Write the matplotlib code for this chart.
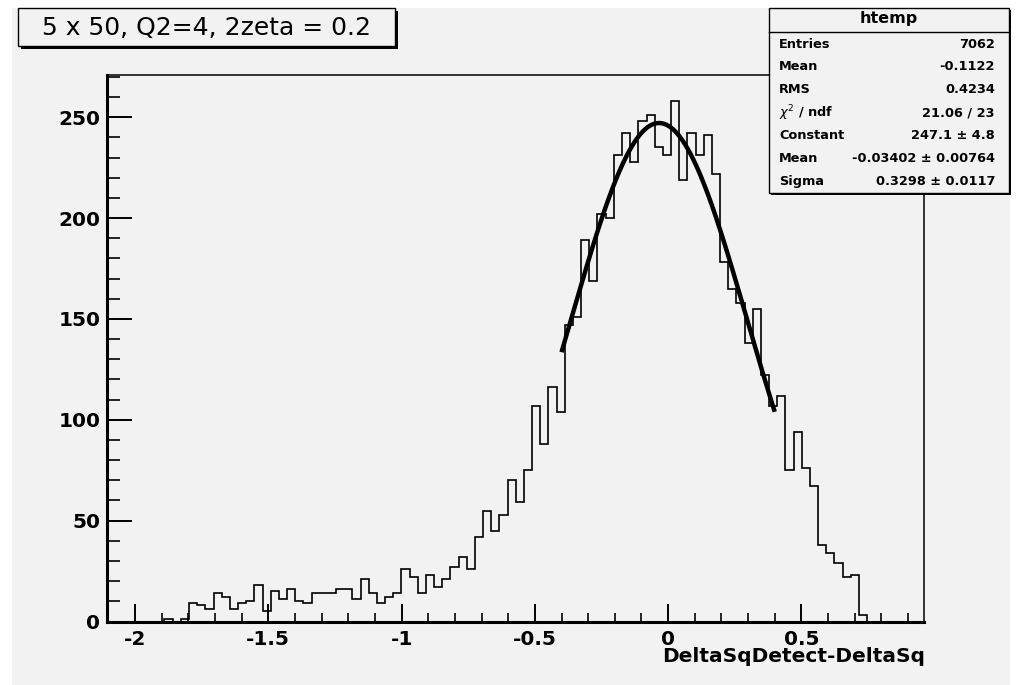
import numpy as np
import matplotlib
matplotlib.use("Agg")
import matplotlib.pyplot as plt
from matplotlib.patches import Rectangle
from matplotlib.lines import Line2D
from matplotlib.ticker import FixedLocator, MultipleLocator

plt.rcParams['font.family'] = ['DejaVu Sans']
plt.rcParams['axes.unicode_minus'] = False

# histogram "htemp": 100 bins, counts
x_min = -2.104
x_max = 0.961
counts = [0, 0, 0, 0, 0, 0, 0, 1, 0, 1,
          9, 8, 6, 14, 12, 6, 9, 10, 18, 5,
          15, 11, 16, 10, 9, 14, 14, 14, 16, 16,
          11, 21, 14, 9, 12, 14, 26, 22, 14, 23,
          17, 21, 27, 32, 26, 42, 55, 45, 53, 70,
          59, 75, 107, 88, 116, 104, 147, 151, 189, 169,
          202, 200, 231, 242, 228, 248, 251, 235, 231, 258,
          219, 242, 231, 241, 222, 178, 165, 158, 138, 155,
          122, 107, 112, 75, 94, 76, 67, 38, 34, 29,
          22, 23, 3, 0, 0, 0, 0, 0, 0, 0]

# gaussian fit shown in the stats box
fit_const = 247.1
fit_mean = -0.03402
fit_sigma = 0.3298
fit_lo, fit_hi = -0.4, 0.4

x_ticks = [-2, -1.5, -1, -0.5, 0, 0.5]
x_tick_labels = ["-2", "-1.5", "-1", "-0.5", "0", "0.5"]
y_ticks = [0, 50, 100, 150, 200, 250]

title = "5 x 50, Q2=4, 2zeta = 0.2"
x_label = "DeltaSqDetect-DeltaSq"
stats_title = "htemp"
stats_names = ["Entries", "Mean", "RMS", r"$\chi^2$ / ndf", "Constant", "Mean", "Sigma"]
stats_values = ["7062", "-0.1122", "0.4234", "21.06 / 23",
                "247.1 \u00b1 4.8", "-0.03402 \u00b1 0.00764", "0.3298 \u00b1 0.0117"]

W, H = 1019, 685
bg = '#f2f2f2'


def fx(px):
    return px / W


def fy(py):
    return 1 - py / H


fig = plt.figure(figsize=(W / 100, H / 100), dpi=100, facecolor='white')
fig.patches.append(Rectangle((fx(12), 0), fx(1010) - fx(12), fy(8), transform=fig.transFigure,
                             facecolor=bg, edgecolor='none', zorder=-10))

ax = fig.add_axes([fx(107.3), fy(621.5), fx(924.3) - fx(107.3), fy(75) - fy(621.5)])
ax.set_facecolor(bg)

edges = np.linspace(x_min, x_max, len(counts) + 1)
ax.stairs(counts, edges, color='black', lw=1.2)

xf = np.linspace(fit_lo, fit_hi, 300)
yf = fit_const * np.exp(-0.5 * ((xf - fit_mean) / fit_sigma) ** 2)
ax.plot(xf, yf, color='black', lw=3.2, solid_capstyle='butt')

ax.set_xlim(x_min, x_max)
ax.set_ylim(0, 1.05 * max(counts))

ax.xaxis.set_major_locator(FixedLocator(x_ticks))
ax.set_xticklabels(x_tick_labels)
ax.xaxis.set_minor_locator(MultipleLocator(0.1))
ax.yaxis.set_major_locator(FixedLocator(y_ticks))
ax.yaxis.set_minor_locator(MultipleLocator(10))

ax.tick_params(axis='x', which='major', direction='in', length=13, width=1.4, pad=6,
               labelsize=14.5)
ax.tick_params(axis='x', which='minor', direction='in', length=6.5, width=1.2)
ax.tick_params(axis='y', which='major', direction='in', length=18, width=1.4, pad=5,
               labelsize=14.5)
ax.tick_params(axis='y', which='minor', direction='in', length=9, width=1.2)
for lab in ax.get_xticklabels() + ax.get_yticklabels():
    lab.set_fontweight('bold')

ax.spines['left'].set_linewidth(2.2)
ax.spines['bottom'].set_linewidth(2.2)
ax.spines['top'].set_linewidth(1.1)
ax.spines['right'].set_linewidth(1.1)

fig.text(fx(925), fy(657), x_label, ha='right', va='center', fontsize=14.5, fontweight='bold')

# title box with shadow
fig.patches.append(Rectangle((fx(21), fy(49)), fx(398) - fx(21), fy(11) - fy(49),
                             transform=fig.transFigure, facecolor='black', edgecolor='none', zorder=5))
fig.patches.append(Rectangle((fx(18), fy(46)), fx(395) - fx(18), fy(8) - fy(46),
                             transform=fig.transFigure, facecolor=bg, edgecolor='black', lw=1.0, zorder=6))
fig.text(fx(206), fy(27.5), title, ha='center', va='center', fontsize=18, zorder=7)

# stats box with shadow
fig.patches.append(Rectangle((fx(771), fy(195)), fx(1011) - fx(771), fy(10) - fy(195),
                             transform=fig.transFigure, facecolor='black', edgecolor='none', zorder=5))
fig.patches.append(Rectangle((fx(769), fy(193)), fx(1009) - fx(769), fy(8) - fy(193),
                             transform=fig.transFigure, facecolor=bg, edgecolor='black', lw=1.0, zorder=6))
fig.lines.append(Line2D([fx(769), fx(1009)], [fy(32), fy(32)], transform=fig.transFigure,
                        color='black', lw=1.0, zorder=7))
fig.text(fx(889), fy(19), stats_title, ha='center', va='center', fontsize=11.5,
         fontweight='bold', zorder=7)
for i, (name, val) in enumerate(zip(stats_names, stats_values)):
    yy = fy(44 + 22.9 * i)
    fig.text(fx(779), yy, name, ha='left', va='center', fontsize=9.3, fontweight='bold', zorder=7)
    fig.text(fx(995), yy, val, ha='right', va='center', fontsize=9.3, fontweight='bold', zorder=7)

fig.savefig("out.png", dpi=100, facecolor=fig.get_facecolor())
